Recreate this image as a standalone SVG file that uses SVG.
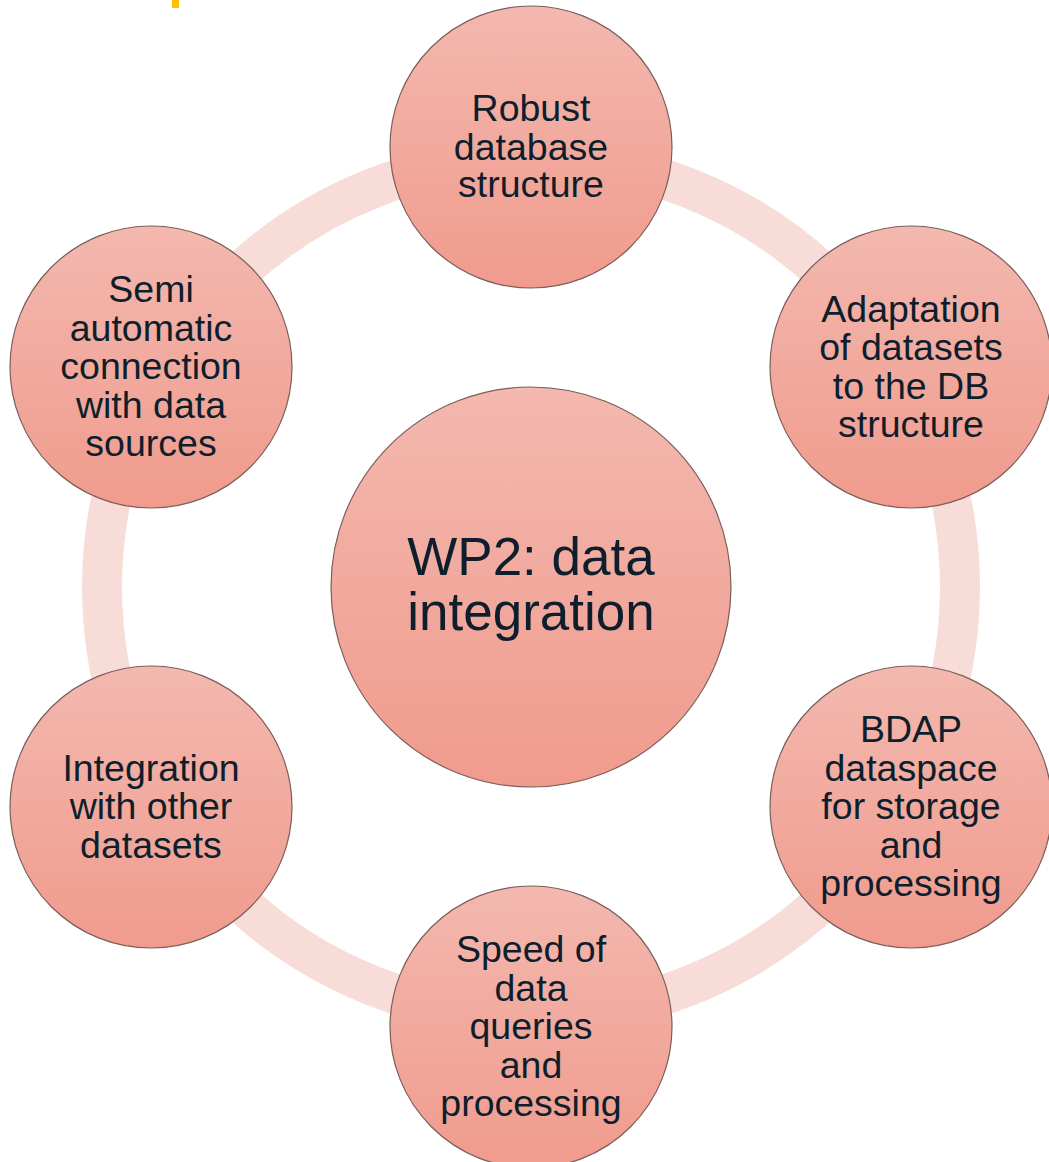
<svg xmlns="http://www.w3.org/2000/svg" width="1049" height="1162" viewBox="0 0 1049 1162">
<defs>
<linearGradient id="g" x1="0" y1="0" x2="0" y2="1">
<stop offset="0" stop-color="#F3B8AF"/>
<stop offset="1" stop-color="#F09B8D"/>
</linearGradient>
<style>
.n{fill:url(#g);stroke:#7a5e5a;stroke-width:1.2}
.t{font-family:"Liberation Sans",Arial,sans-serif;font-size:37.5px;fill:#0F1E2C;text-anchor:middle}
.c{font-size:53px}
</style>
</defs>
<rect width="1049" height="1162" fill="#ffffff"/>
<rect x="172" y="0" width="7" height="8" fill="#FFC000"/>
<g id="connectors">
<circle cx="531" cy="587" r="429" fill="none" stroke="#F7DCD8" stroke-width="40"/>
</g>
<g id="center">
<circle class="n" cx="531" cy="587" r="200"/>
<text class="t c" x="531" y="575">WP2: data</text>
<text class="t c" x="531" y="630">integration</text>
</g>
<g id="n1">
<circle class="n" cx="531" cy="147" r="141"/>
<text class="t" x="531" y="121">Robust</text>
<text class="t" x="531" y="160">database</text>
<text class="t" x="531" y="197">structure</text>
</g>
<g id="n2">
<circle class="n" cx="911" cy="367" r="141"/>
<text class="t" x="911" y="322">Adaptation</text>
<text class="t" x="911" y="360">of datasets</text>
<text class="t" x="911" y="399">to the DB</text>
<text class="t" x="911" y="437">structure</text>
</g>
<g id="n3">
<circle class="n" cx="911" cy="807" r="141"/>
<text class="t" x="911" y="742">BDAP</text>
<text class="t" x="911" y="781">dataspace</text>
<text class="t" x="911" y="819">for storage</text>
<text class="t" x="911" y="858">and</text>
<text class="t" x="911" y="896">processing</text>
</g>
<g id="n4">
<circle class="n" cx="531" cy="1027" r="141"/>
<text class="t" x="531" y="962">Speed of</text>
<text class="t" x="531" y="1001">data</text>
<text class="t" x="531" y="1039">queries</text>
<text class="t" x="531" y="1078">and</text>
<text class="t" x="531" y="1116">processing</text>
</g>
<g id="n5">
<circle class="n" cx="151" cy="807" r="141"/>
<text class="t" x="151" y="781">Integration</text>
<text class="t" x="151" y="819">with other</text>
<text class="t" x="151" y="858">datasets</text>
</g>
<g id="n6">
<circle class="n" cx="151" cy="367" r="141"/>
<text class="t" x="151" y="302">Semi</text>
<text class="t" x="151" y="341">automatic</text>
<text class="t" x="151" y="379">connection</text>
<text class="t" x="151" y="418">with data</text>
<text class="t" x="151" y="456">sources</text>
</g>
</svg>
